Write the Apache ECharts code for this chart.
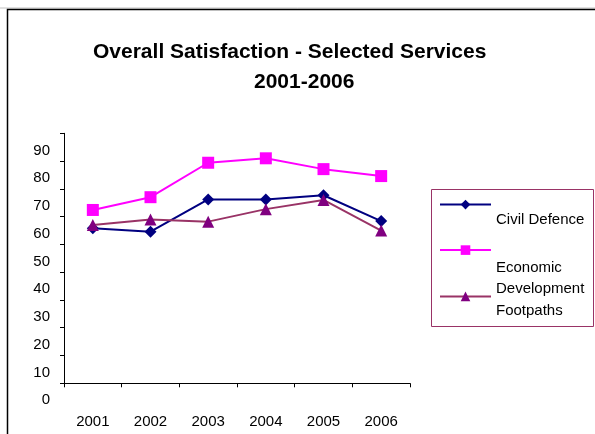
<!DOCTYPE html>
<html>
<head>
<meta charset="utf-8">
<script src="https://cdn.jsdelivr.net/npm/echarts@6/dist/echarts.min.js"></script>
<style>html,body{margin:0;padding:0;background:#fff}#c{width:595px;height:434px}</style>
</head>
<body>
<div id="c"></div>
<script>
var categories = ['2001', '2002', '2003', '2004', '2005', '2006'];
var civilDefence = [55.8, 54.6, 66.2, 66.2, 67.7, 58.4];
var economicDevelopment = [62.4, 67.0, 79.4, 81.0, 77.1, 74.6];
var footpaths = [57.0, 59.0, 58.2, 62.7, 66.0, 55.0];
var yTicks = [0, 10, 20, 30, 40, 50, 60, 70, 80, 90];
var titleLine1 = 'Overall Satisfaction - Selected Services';
var titleLine2 = '2001-2006';

var FONT = 'Liberation Sans, Arial, sans-serif';
var chart = echarts.init(document.getElementById('c'), null, {renderer: 'canvas'});

function legendFor(name, top, spacer, lines) {
  return {
    show: true, orient: 'vertical', left: 439, top: top, padding: 0,
    itemWidth: 51, itemHeight: 12, itemGap: 0,
    data: [name],
    formatter: function () {
      return '{s|}\n' + lines.map(function (l) { return '{t|' + l + '}'; }).join('\n');
    },
    textStyle: {
      fontFamily: FONT, fontSize: 15, color: '#000',
      rich: {
        s: {fontFamily: FONT, fontSize: 15, lineHeight: spacer},
        t: {fontFamily: FONT, fontSize: 15, color: '#000', lineHeight: lines.length > 1 ? 21 : 17}
      }
    }
  };
}

var axisMin = yTicks[0], axisMax = yTicks[yTicks.length - 1], axisStep = yTicks[1] - yTicks[0];

chart.setOption({
  animation: false,
  backgroundColor: '#fff',
  title: [
    {text: titleLine1, left: 93, top: 42, padding: 0,
     textStyle: {fontFamily: FONT, fontSize: 21, fontWeight: 'bold', color: '#000'}},
    {text: titleLine2, left: 254, top: 72, padding: 0,
     textStyle: {fontFamily: FONT, fontSize: 21, fontWeight: 'bold', color: '#000'}}
  ],
  graphic: [
    {type: 'line', shape: {x1: 0, y1: 8, x2: 595, y2: 8}, style: {stroke: '#c0c0c0', lineWidth: 1}, silent: true},
    {type: 'rect', shape: {x: 7.5, y: 9.5, width: 700, height: 500}, style: {fill: null, stroke: '#000', lineWidth: 1.5}, silent: true},
    {type: 'rect', shape: {x: 431.5, y: 189.5, width: 162, height: 137}, style: {fill: null, stroke: '#993366', lineWidth: 1}, silent: true}
  ],
  legend: [
    legendFor('Civil Defence', 188.6, 31, ['Civil Defence']),
    legendFor('Economic Development', 221.6, 56, ['Economic', 'Development']),
    legendFor('Footpaths', 280.4, 29, ['Footpaths'])
  ],
  grid: [
    {left: 64, right: 185, top: 133.3, bottom: 50.7, containLabel: false},
    {left: 64, right: 185, top: 150.5, bottom: 33.8, containLabel: false}
  ],
  xAxis: [{
    type: 'category', data: categories, boundaryGap: true, gridIndex: 0,
    axisLine: {lineStyle: {color: '#000', width: 1}},
    axisTick: {show: true, length: 4, lineStyle: {color: '#000'}},
    axisLabel: {fontFamily: FONT, fontSize: 15, color: '#000', margin: 31}
  }, {
    type: 'category', data: categories, gridIndex: 1, show: false
  }],
  yAxis: [{
    type: 'value', min: axisMin, max: axisMax, interval: axisStep, gridIndex: 0,
    splitLine: {show: false},
    axisLine: {show: true, lineStyle: {color: '#000', width: 1}},
    axisTick: {show: true, length: 4, lineStyle: {color: '#000'}},
    axisLabel: {show: false}
  }, {
    type: 'value', min: axisMin, max: axisMax, interval: axisStep, gridIndex: 1,
    splitLine: {show: false},
    axisLine: {show: false},
    axisTick: {show: false},
    axisLabel: {fontFamily: FONT, fontSize: 15, color: '#000', margin: 14,
      showMinLabel: true, showMaxLabel: true}
  }],
  series: [
    {name: 'Civil Defence', type: 'line', data: civilDefence, symbol: 'diamond', symbolSize: 12,
     lineStyle: {color: '#000080', width: 2}, itemStyle: {color: '#000080'}, z: 3},
    {name: 'Economic Development', type: 'line', data: economicDevelopment, symbol: 'rect', symbolSize: 12,
     lineStyle: {color: '#ff00ff', width: 2}, itemStyle: {color: '#ff00ff'}, z: 2},
    {name: 'Footpaths', type: 'line', data: footpaths, symbol: 'triangle', symbolSize: 12,
     lineStyle: {color: '#993366', width: 2}, itemStyle: {color: '#800080'}, z: 4}
  ]
});
</script>
</body>
</html>
